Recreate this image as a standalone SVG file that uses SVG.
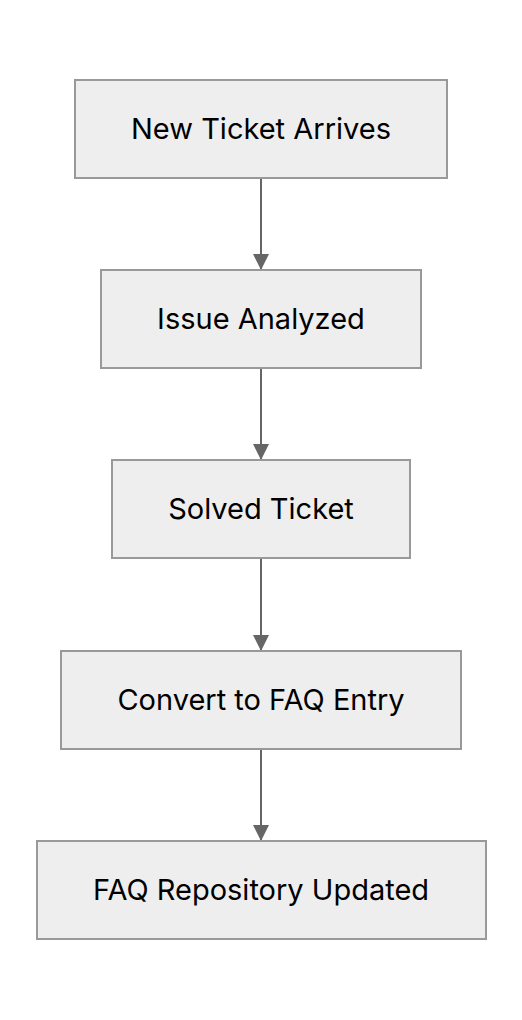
<svg xmlns="http://www.w3.org/2000/svg" width="522" height="1020" viewBox="0 0 522 1020">
<style>
.box{fill:#eeeeee;stroke:#999999;stroke-width:2}
.lbl{font-family:Inter,"Noto Sans",sans-serif;font-size:29px;fill:#000;text-anchor:middle;dominant-baseline:central}
.edge{stroke:#666666;stroke-width:2;fill:none}
</style>
<defs>
<marker id="arr" markerWidth="8" markerHeight="8" refX="7.5" refY="4" orient="auto" markerUnits="strokeWidth">
<path d="M0,0 L8,4 L0,8 Z" fill="#666666"/>
</marker>
</defs>
<rect width="522" height="1020" fill="#ffffff"/>
<g id="connectors">
<line class="edge" x1="261" y1="178" x2="261" y2="269" marker-end="url(#arr)"/>
<line class="edge" x1="261" y1="369" x2="261" y2="459" marker-end="url(#arr)"/>
<line class="edge" x1="261" y1="559" x2="261" y2="650" marker-end="url(#arr)"/>
<line class="edge" x1="261" y1="750" x2="261" y2="840" marker-end="url(#arr)"/>
</g>
<g id="n1"><rect class="box" x="75" y="80" width="372" height="98"/><text class="lbl" x="261" y="128">New Ticket Arrives</text></g>
<g id="n2"><rect class="box" x="101" y="270" width="320" height="98"/><text class="lbl" x="261" y="318">Issue Analyzed</text></g>
<g id="n3"><rect class="box" x="112" y="460" width="298" height="98"/><text class="lbl" x="261" y="508">Solved Ticket</text></g>
<g id="n4"><rect class="box" x="61" y="651" width="400" height="98"/><text class="lbl" x="261" y="699">Convert to FAQ Entry</text></g>
<g id="n5"><rect class="box" x="37" y="841" width="449" height="98"/><text class="lbl" x="261" y="889">FAQ Repository Updated</text></g>
</svg>
